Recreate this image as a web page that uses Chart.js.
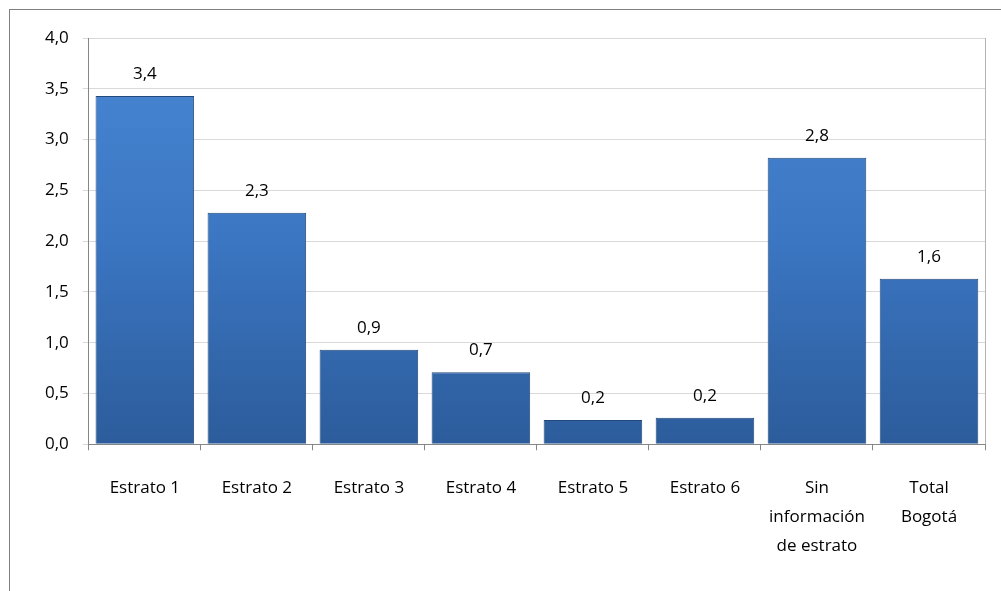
<html>
<head>
  <title>Estrato chart</title>
  <script src="https://cdn.jsdelivr.net/npm/chart.js"></script>
  <style>
    body { margin: 0; background: #fff; }
    #frame { position: absolute; left: 9px; top: 9px; width: 1000px; height: 590px;
             border-left: 1px solid #7f7f7f; border-top: 1px solid #7f7f7f; }
    #wrap { position: absolute; left: 0; top: 0; width: 1001px; height: 591px; }
  </style>
</head>
<body>
  <div id="frame"></div>
  <div id="wrap"><canvas id="chart" width="1001" height="591"></canvas></div>

  <script>
    // categories and values
    const categories = [
      'Estrato 1', 'Estrato 2', 'Estrato 3', 'Estrato 4', 'Estrato 5', 'Estrato 6',
      ['Sin', 'información', 'de estrato'], ['Total', 'Bogotá']
    ];
    const values = [3.43, 2.28, 0.93, 0.71, 0.24, 0.26, 2.82, 1.63];
    const shownLabels = ['3,4', '2,3', '0,9', '0,7', '0,2', '0,2', '2,8', '1,6'];

    const fontFamily = '"Open Sans", sans-serif';
    const fontSize = 17;

    // blue gradient like the office bars
    function barFill(context) {
      const area = context.chart.chartArea;
      if (!area) return '#3a70b8';
      const el = context.element;
      const top = el && el.y != null ? el.y : area.top;
      const g = context.chart.ctx.createLinearGradient(0, top, 0, area.bottom);
      g.addColorStop(0, '#4887d4');
      g.addColorStop(0.5, '#3b76c2');
      g.addColorStop(1, '#2c5c9b');
      return g;
    }

    // writes the value over each bar, plus the right edge of the plot box
    const valueLabels = {
      id: 'valueLabels',
      afterDatasetsDraw(chart) {
        const ctx = chart.ctx;
        const area = chart.chartArea;
        const meta = chart.getDatasetMeta(0);
        ctx.save();
        ctx.strokeStyle = '#b3b3b3';
        ctx.lineWidth = 1;
        ctx.beginPath();
        ctx.moveTo(Math.round(area.right) + 0.5, area.top);
        ctx.lineTo(Math.round(area.right) + 0.5, area.bottom);
        ctx.stroke();
        ctx.font = fontSize + 'px ' + fontFamily;
        ctx.fillStyle = '#000';
        ctx.textAlign = 'center';
        ctx.textBaseline = 'middle';
        meta.data.forEach((bar, i) => {
          ctx.fillText(shownLabels[i], bar.x, bar.y - 22);
        });
        ctx.restore();
      }
    };

    const ctx = document.getElementById('chart').getContext('2d');
    new Chart(ctx, {
      type: 'bar',
      data: {
        labels: categories,
        datasets: [{
          data: values,
          backgroundColor: barFill,
          borderColor: '#23487a',
          borderWidth: 1,
          barPercentage: 0.88,
          categoryPercentage: 1.0
        }]
      },
      options: {
        responsive: false,
        animation: false,
        layout: { padding: { left: 31, top: 38, right: 16, bottom: 7 } },
        plugins: { legend: { display: false }, tooltip: { enabled: false } },
        scales: {
          x: {
            offset: true,
            grid: { display: true, drawOnChartArea: false, offset: true, tickLength: 6, color: '#868686' },
            border: { color: '#868686' },
            ticks: { color: '#000', font: { family: fontFamily, size: fontSize, lineHeight: 1.72 }, maxRotation: 0, padding: 23 }
          },
          y: {
            min: 0,
            max: 4,
            grid: { color: '#d9d9d9', tickLength: 6 },
            border: { color: '#868686' },
            ticks: {
              stepSize: 0.5,
              color: '#000',
              font: { family: fontFamily, size: fontSize },
              padding: 14,
              callback: v => v.toFixed(1).replace('.', ',')
            }
          }
        }
      },
      plugins: [valueLabels]
    });
  </script>
</body>
</html>
